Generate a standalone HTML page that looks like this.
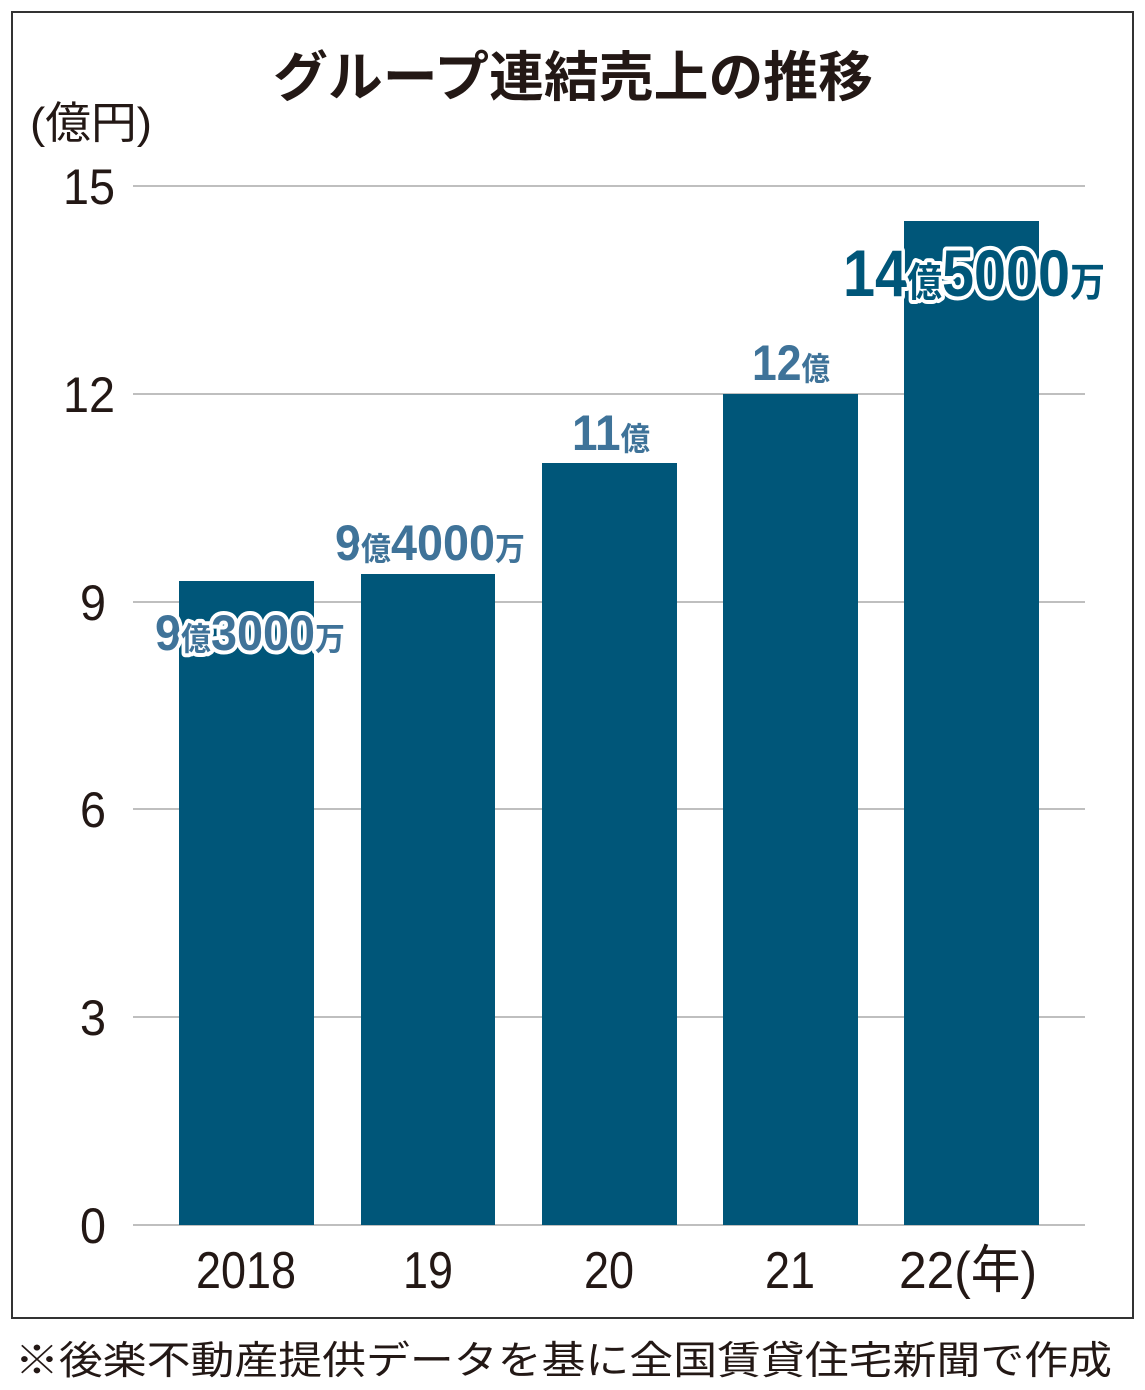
<!DOCTYPE html>
<html><head><meta charset="utf-8"><style>body{margin:0;background:#fff}svg{display:block}</style></head><body>
<svg width="1145" height="1390" xmlns="http://www.w3.org/2000/svg" font-family="'Liberation Sans','Noto Sans CJK JP',sans-serif">
<rect x="12" y="12" width="1121" height="1306" fill="#fff" stroke="#333" stroke-width="2"/>
<text x="573" y="96" font-size="54" font-weight="bold" text-anchor="middle" fill="#231815" textLength="600" lengthAdjust="spacingAndGlyphs">グループ連結売上の推移</text>
<text x="30" y="138" font-size="44" fill="#231815" textLength="122" lengthAdjust="spacingAndGlyphs">(億円)</text>
<g stroke="#aaa" stroke-width="1.5">
<line x1="133" y1="186" x2="1085" y2="186"/><line x1="133" y1="394" x2="1085" y2="394"/><line x1="133" y1="602" x2="1085" y2="602"/><line x1="133" y1="809" x2="1085" y2="809"/><line x1="133" y1="1017" x2="1085" y2="1017"/><line x1="133" y1="1225" x2="1085" y2="1225"/>
</g>
<g font-size="50" fill="#231815" text-anchor="end">
<text x="115" y="204" textLength="52" lengthAdjust="spacingAndGlyphs">15</text>
<text x="115" y="412" textLength="52" lengthAdjust="spacingAndGlyphs">12</text>
<text x="106" y="620" textLength="26" lengthAdjust="spacingAndGlyphs">9</text><text x="106" y="827" textLength="26" lengthAdjust="spacingAndGlyphs">6</text><text x="106" y="1035" textLength="26" lengthAdjust="spacingAndGlyphs">3</text><text x="106" y="1243" textLength="26" lengthAdjust="spacingAndGlyphs">0</text>
</g>
<g fill="#005679">
<rect x="179" y="581" width="135" height="644"/>
<rect x="361" y="574" width="134" height="651"/>
<rect x="542" y="463" width="135" height="762"/>
<rect x="723" y="394" width="135" height="831"/>
<rect x="904" y="221" width="135" height="1004"/>
</g>
<g font-size="52" fill="#231815" text-anchor="middle">
<text x="246" y="1288" textLength="100" lengthAdjust="spacingAndGlyphs">2018</text>
<text x="428" y="1288" textLength="50" lengthAdjust="spacingAndGlyphs">19</text>
<text x="609" y="1288" textLength="50" lengthAdjust="spacingAndGlyphs">20</text>
<text x="790" y="1288" textLength="50" lengthAdjust="spacingAndGlyphs">21</text>
<text x="968" y="1288" textLength="138" lengthAdjust="spacingAndGlyphs">22(年)</text>
</g>
<g font-weight="bold" fill="#3f7399" stroke="#fff" stroke-width="8" paint-order="stroke" stroke-linejoin="round">
<text x="155" y="650" font-size="50" textLength="190" lengthAdjust="spacingAndGlyphs">9<tspan font-size="32">億</tspan>3000<tspan font-size="32">万</tspan></text>
<text x="335" y="560" font-size="50" textLength="190" lengthAdjust="spacingAndGlyphs">9<tspan font-size="32">億</tspan>4000<tspan font-size="32">万</tspan></text>
<text x="572" y="450" font-size="50" textLength="78" lengthAdjust="spacingAndGlyphs">11<tspan font-size="32">億</tspan></text>
<text x="752" y="380" font-size="50" textLength="78" lengthAdjust="spacingAndGlyphs">12<tspan font-size="32">億</tspan></text>
<text x="843" y="296" font-size="66" fill="#005679" textLength="262" lengthAdjust="spacingAndGlyphs">14<tspan font-size="40">億</tspan>5000<tspan font-size="40">万</tspan></text>
</g>
<text x="15" y="1374" font-size="39" fill="#231815" textLength="1097" lengthAdjust="spacingAndGlyphs">※後楽不動産提供データを基に全国賃貸住宅新聞で作成</text>
</svg>
</body></html>
